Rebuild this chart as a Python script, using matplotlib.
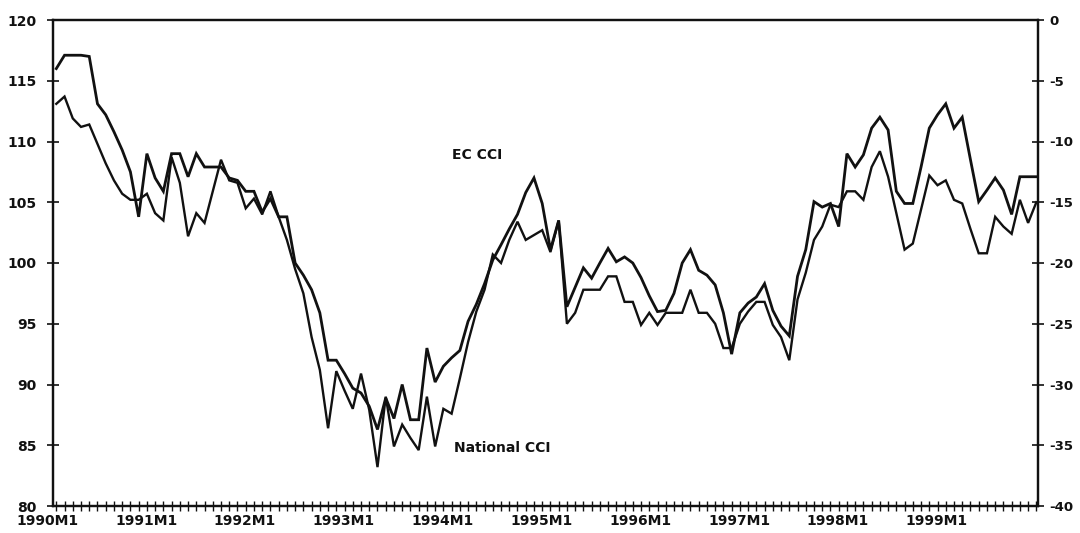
import numpy as np
import matplotlib
matplotlib.use('Agg')
import matplotlib.pyplot as plt
from matplotlib.ticker import FixedLocator, MultipleLocator
import matplotlib.transforms as mtransforms

plt.rcParams['axes.unicode_minus'] = False

# monthly data, 1990M1 .. 1999M12
# National CCI (left axis, index)
national = [113.1, 113.7, 111.9, 111.2, 111.4, 109.8, 108.2, 106.8, 105.7, 105.2, 105.2, 105.7,
            104.1, 103.5, 108.7, 106.6, 102.2, 104.1, 103.3, 105.9, 108.5, 106.8, 106.6, 104.5,
            105.3, 104.0, 105.9, 103.8, 101.9, 99.5, 97.5, 93.9, 91.2, 86.4, 91.1, 89.5,
            88.0, 90.9, 87.9, 83.2, 89.0, 84.9, 86.7, 85.6, 84.6, 89.0, 84.9, 88.0,
            87.6, 90.5, 93.5, 96.0, 97.8, 100.7, 100.0, 101.9, 103.4, 101.9, 102.3, 102.7,
            100.9, 103.5, 95.0, 95.9, 97.8, 97.8, 97.8, 98.9, 98.9, 96.8, 96.8, 94.9,
            95.9, 94.9, 95.9, 95.9, 95.9, 97.8, 95.9, 95.9, 95.0, 93.0, 93.0, 95.0,
            96.0, 96.8, 96.8, 94.9, 93.9, 92.0, 97.0, 99.2, 101.9, 103.0, 104.8, 104.6,
            105.9, 105.9, 105.2, 107.9, 109.2, 107.1, 104.1, 101.1, 101.6, 104.4, 107.2, 106.4,
            106.8, 105.2, 104.9, 102.8, 100.8, 100.8, 103.8, 103.0, 102.4, 105.2, 103.3, 105.0]

# EC CCI (right axis, balance)
ec = [-4.0, -2.9, -2.9, -2.9, -3.0, -6.9, -7.8, -9.2, -10.7, -12.5, -16.2, -11.0,
      -13.0, -14.1, -11.0, -11.0, -12.9, -11.0, -12.1, -12.1, -12.1, -13.0, -13.2, -14.1,
      -14.1, -15.8, -14.7, -16.2, -16.2, -20.0, -21.0, -22.2, -24.1, -28.0, -28.0, -29.1,
      -30.3, -30.7, -31.8, -33.7, -31.1, -32.8, -30.0, -32.9, -32.9, -27.0, -29.8, -28.5,
      -27.8, -27.2, -24.8, -23.4, -21.7, -19.75, -18.5, -17.2, -16.0, -14.2, -13.0, -15.1,
      -18.9, -16.5, -23.6, -22.0, -20.4, -21.25, -20.0, -18.8, -19.9, -19.5, -20.0, -21.2,
      -22.7, -24.0, -23.9, -22.5, -20.0, -18.9, -20.6, -21.0, -21.8, -24.1, -27.5, -24.1,
      -23.3, -22.8, -21.7, -23.9, -25.2, -26.0, -21.1, -18.9, -14.95, -15.4, -15.1, -17.0,
      -11.0, -12.1, -11.1, -8.9, -8.0, -9.05, -14.1, -15.1, -15.1, -12.1, -8.9, -7.8,
      -6.9, -8.9, -8.0, -11.5, -14.95, -14.0, -13.0, -14.0, -16.0, -12.9, -12.9, -12.9]

years = list(range(1990, 2000))
year_labels = [f'{y}M1' for y in years]

months = np.arange(len(national))
INK = '#111111'

fig = plt.figure(figsize=(10.8, 5.33), dpi=100)
ax = fig.add_axes([53/1080, 27/533, 985/1080, 486/533])
ax2 = ax.twinx()

ax.plot(months, national, color=INK, lw=1.7, solid_joinstyle='miter')
ax2.plot(months, ec, color=INK, lw=2.0, solid_joinstyle='miter')

ax.set_xlim(-0.4, 119.2)
ax.set_ylim(80, 120)
ax2.set_ylim(-40, 0)

ax.yaxis.set_major_locator(MultipleLocator(5))
ax2.yaxis.set_major_locator(MultipleLocator(5))
ax.xaxis.set_major_locator(FixedLocator(months[::12]))
ax.xaxis.set_minor_locator(FixedLocator(months))
ax.set_xticklabels(year_labels)

for a in (ax, ax2):
    for s in a.spines.values():
        s.set_linewidth(1.6)
        s.set_color(INK)

ax.tick_params(axis='x', which='both', direction='inout', length=7, width=1.0,
               colors=INK, labelsize=10, pad=2)
ax.tick_params(axis='y', direction='inout', length=8, width=1.2, colors=INK,
               labelsize=10, pad=8)
ax2.tick_params(axis='y', direction='inout', length=8, width=1.2, colors=INK,
                labelsize=9.5, pad=4)

shift = mtransforms.ScaledTranslation(-9/100, 0, fig.dpi_scale_trans)
for lab in ax.get_xticklabels():
    lab.set_fontweight('bold')
    lab.set_transform(lab.get_transform() + shift)
for lab in ax.get_yticklabels() + ax2.get_yticklabels():
    lab.set_fontweight('bold')

ax.text(51.1, 108.9, 'EC CCI', fontsize=10, fontweight='bold', color=INK,
        ha='center', va='center')
ax.text(54.1, 84.8, 'National CCI', fontsize=10, fontweight='bold', color=INK,
        ha='center', va='center')

plt.savefig('out.png', dpi=100)
